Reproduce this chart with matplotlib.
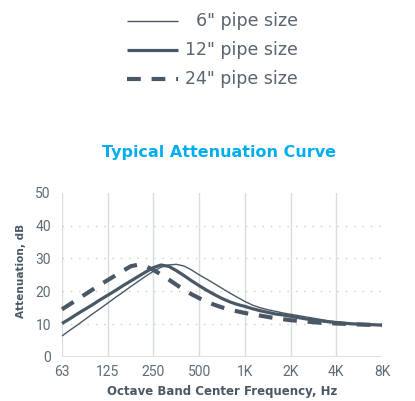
import matplotlib
matplotlib.use("Agg")
import matplotlib.pyplot as plt
from matplotlib.lines import Line2D

plt.rcParams['font.family'] = ['Roboto', 'DejaVu Sans']

# sixth-octave band frequencies (63 Hz * 2^(k/6))
freqs = [63, 70.7, 79.4, 89.1, 100, 112.2, 126, 141.4, 158.7, 178.2, 200, 224.5,
         252, 282.8, 317.5, 356.4, 400, 449, 504, 565.7, 635, 712.8, 800, 898,
         1008, 1131, 1270, 1425, 1600, 1796, 2016, 2263, 2540, 2851, 3200, 3592,
         4032, 4526, 5080, 5702, 6400, 7184, 8064]
pipe6 = [6.4, 8.1, 9.7, 11.4, 13.1, 14.7, 16.4, 18.1, 19.7, 21.4, 23.0, 24.6,
         26.1, 27.3, 28.0, 28.2, 27.7, 26.5, 25.0, 23.7, 22.3, 20.9, 19.5, 18.2,
         16.9, 15.8, 15.0, 14.4, 13.9, 13.4, 13.0, 12.6, 12.2, 11.8, 11.4, 11.0,
         10.7, 10.4, 10.2, 10.0, 9.9, 9.8, 9.7]
pipe12 = [10.2, 11.6, 13.1, 14.5, 15.9, 17.4, 18.8, 20.2, 21.7, 23.1, 24.5, 25.9,
          27.2, 28.0, 27.6, 26.3, 24.8, 23.2, 21.7, 20.3, 19.0, 17.8, 16.8, 16.0,
          15.4, 14.7, 14.1, 13.6, 13.1, 12.8, 12.4, 12.0, 11.6, 11.3, 11.0, 10.7,
          10.5, 10.3, 10.1, 10.0, 9.9, 9.8, 9.7]
pipe24 = [14.5, 16.0, 17.5, 19.0, 20.5, 22.0, 23.4, 24.8, 26.2, 27.6, 28.1, 27.6,
          26.5, 25.1, 23.6, 22.0, 20.5, 19.1, 17.9, 16.8, 15.9, 15.1, 14.4, 13.9,
          13.4, 13.0, 12.6, 12.2, 11.8, 11.5, 11.2, 11.0, 10.8, 10.6, 10.4, 10.3,
          10.2, 10.1, 10.0, 9.9, 9.8, 9.8, 9.7]
labels = ['6" pipe size', '12" pipe size', '24" pipe size']
xticks = [63, 126, 252, 504, 1008, 2016, 4032, 8064]
xticklabels = ['63', '125', '250', '500', '1K', '2K', '4K', '8K']
yticks = [0, 10, 20, 30, 40, 50]

LINE = '#4a5866'
GRID = '#d8dddf'
TICK = '#5f6b75'
WIDE = ['DejaVu Sans']

W, H = 415, 401
fig = plt.figure(figsize=(W / 100, H / 100), dpi=100)
ax = fig.add_axes([62 / W, 1 - 357 / H, 320 / W, 164.3 / H])

ax.set_xscale('log', base=2)
ax.set_xlim(xticks[0], xticks[-1])
ax.set_ylim(0, 50)

styles = [dict(lw=1.0, ls='-'), dict(lw=2.3, ls='-'), dict(lw=3.0, ls=(0, (3.3, 2.6)))]
for ys, st in zip([pipe6, pipe12, pipe24], styles):
    ax.plot(freqs, ys, color=LINE, solid_capstyle='butt', dash_capstyle='butt',
            solid_joinstyle='round', clip_on=False, zorder=3, **st)

for xt in xticks[:-1]:
    ax.axvline(xt, color=GRID, lw=1.0, zorder=1)
for yt in yticks[1:-1]:
    ax.axhline(yt, color='#c9cfd2', lw=1.0, ls=(0, (1, 5)), zorder=1)
ax.axhline(0, color=GRID, lw=1.2, zorder=1)

for s in ax.spines.values():
    s.set_visible(False)

ax.set_xticks(xticks)
ax.set_xticklabels(xticklabels)
ax.minorticks_off()
ax.set_yticks(yticks)
ax.tick_params(length=0, labelsize=10, colors=TICK, pad=6)
ax.tick_params(axis='y', pad=8)

ax.set_xlabel('Octave Band Center Frequency, Hz', fontsize=8.5, fontweight='bold', color=LINE,
              labelpad=4, family=WIDE)
ax.set_ylabel('Attenuation, dB', fontsize=7.6, fontweight='bold', color=LINE, family=WIDE)
ax.yaxis.set_label_coords((26 - 62) / 320, (357 - 271) / 164.3)

fig.text(219 / W, 1 - 153 / H, 'Typical Attenuation Curve', ha='center', va='center',
         fontsize=11.5, fontweight='bold', color='#00aeef', family=WIDE)

# legend drawn in figure coordinates
rows = [21, 50, 79]
for y, lab, st in zip(rows, labels, styles):
    fy = 1 - y / H
    fig.add_artist(Line2D([127 / W, 178 / W], [fy, fy], color=LINE, solid_capstyle='butt',
                          dash_capstyle='butt', transform=fig.transFigure, **st))
    fig.text(298 / W, fy, lab, ha='right', va='center', fontsize=12.5, color='#5a6570', family=WIDE)

fig.savefig('out.png', dpi=100)
